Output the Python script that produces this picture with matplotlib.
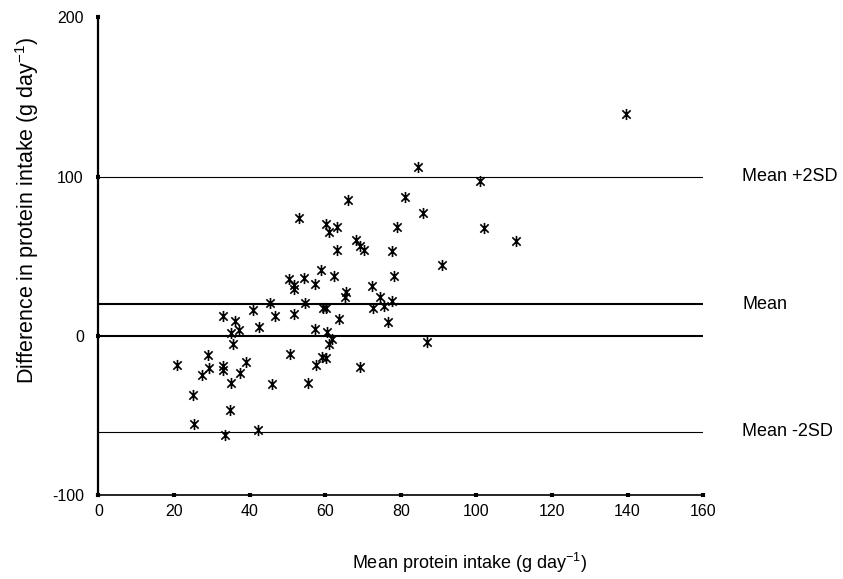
import matplotlib
matplotlib.use("Agg")
import matplotlib.pyplot as plt
from matplotlib.path import Path

plt.rcParams['font.family'] = ['Liberation Sans', 'DejaVu Sans']
plt.rcParams['mathtext.fontset'] = 'custom'
plt.rcParams['mathtext.rm'] = 'Liberation Sans'
plt.rcParams['mathtext.it'] = 'Liberation Sans'
plt.rcParams['mathtext.default'] = 'regular'

mean_intake = [53.0, 60.1, 61.0, 63.0, 63.2, 58.9, 62.3, 50.5, 54.3, 51.8,
               51.8, 57.3, 45.5, 54.6, 59.4, 60.2, 32.9, 36.2, 40.8, 46.8,
               51.7, 42.5, 37.1, 35.0, 57.4, 60.6, 63.7, 61.8, 61.0, 35.5,
               29.1, 20.8, 29.2, 32.9, 32.9, 27.5, 39.1, 37.6, 35.1, 25.0,
               34.7, 25.4, 33.4, 42.1, 50.6, 45.9, 55.5, 57.7, 59.2, 60.1,
               84.5, 100.9, 66.1, 81.1, 85.8, 79.0, 102.1, 110.5, 68.2, 69.1,
               70.2, 77.7, 90.8, 78.2, 72.3, 65.5, 65.2, 74.5, 72.7, 75.6,
               77.7, 76.6, 87.0, 69.1, 139.6]
difference = [74.3, 70.1, 65.3, 68.2, 54.2, 41.4, 37.5, 35.6, 36.6, 31.8,
              29.3, 32.3, 20.5, 20.4, 17.8, 17.8, 12.8, 9.4, 16.3, 12.7,
              13.6, 5.4, 3.7, 1.6, 4.6, 2.6, 10.5, -2.1, -5.2, -5.2,
              -12.0, -18.2, -20.1, -18.8, -21.6, -24.5, -16.2, -23.2, -29.3, -37.3,
              -46.5, -55.2, -62.1, -59.3, -11.3, -30.3, -29.3, -18.4, -13.2, -14.1,
              106.3, 97.3, 85.2, 87.3, 77.4, 68.2, 68.0, 59.4, 60.5, 56.5,
              54.2, 53.4, 44.4, 37.4, 31.4, 27.8, 24.7, 24.6, 17.4, 18.6,
              21.7, 8.7, -3.6, -19.3, 139.2]

ref_values = [100, 20, 0, -60]
ref_labels = ['Mean +2SD', 'Mean', '', 'Mean -2SD']
ref_widths = [0.8, 1.5, 1.5, 0.8]

x_ticks = [0, 20, 40, 60, 80, 100, 120, 140, 160]
y_ticks = [-100, 0, 100, 200]

star = Path([(0, -1), (0, 1), (-0.75, -0.75), (0.75, 0.75), (-0.75, 0.75), (0.75, -0.75)],
            [Path.MOVETO, Path.LINETO, Path.MOVETO, Path.LINETO, Path.MOVETO, Path.LINETO])

fig = plt.figure(figsize=(8.43, 5.79), dpi=100)
ax = fig.add_axes([0.1167, 0.1446, 0.7174, 0.8256])

for v, lab, lw in zip(ref_values, ref_labels, ref_widths):
    ax.plot([0, 160], [v, v], color='black', lw=lw, solid_capstyle='butt', zorder=1)
    if lab:
        ax.text(170.3, v, lab, fontsize=13, va='center', ha='left', clip_on=False)

ax.plot(mean_intake, difference, linestyle='none', marker=star, markersize=8,
        markeredgewidth=1.2, color='black', zorder=3)

ax.set_xlim(0, 160)
ax.set_ylim(-100, 200)
ax.set_xticks(x_ticks)
ax.set_yticks(y_ticks)
ax.set_xticklabels([str(t) for t in x_ticks])
ax.set_yticklabels([str(t) for t in y_ticks])
ax.tick_params(axis='both', direction='inout', length=3, width=3, labelsize=11.5)
ax.tick_params(axis='x', pad=5)
ax.tick_params(axis='y', pad=9)
for s in ['top', 'right']:
    ax.spines[s].set_visible(False)
ax.spines['left'].set_linewidth(1.6)
ax.spines['bottom'].set_linewidth(1.2)

fig.text(0.5575, 0.028, 'Mean protein intake (g day$^{-1}$)', fontsize=13,
         ha='center', va='center')
fig.text(0.0315, 0.637, 'Difference in protein intake (g day$^{-1}$)', fontsize=15.5,
         ha='center', va='center', rotation=90)

fig.savefig('out.png', dpi=100)
